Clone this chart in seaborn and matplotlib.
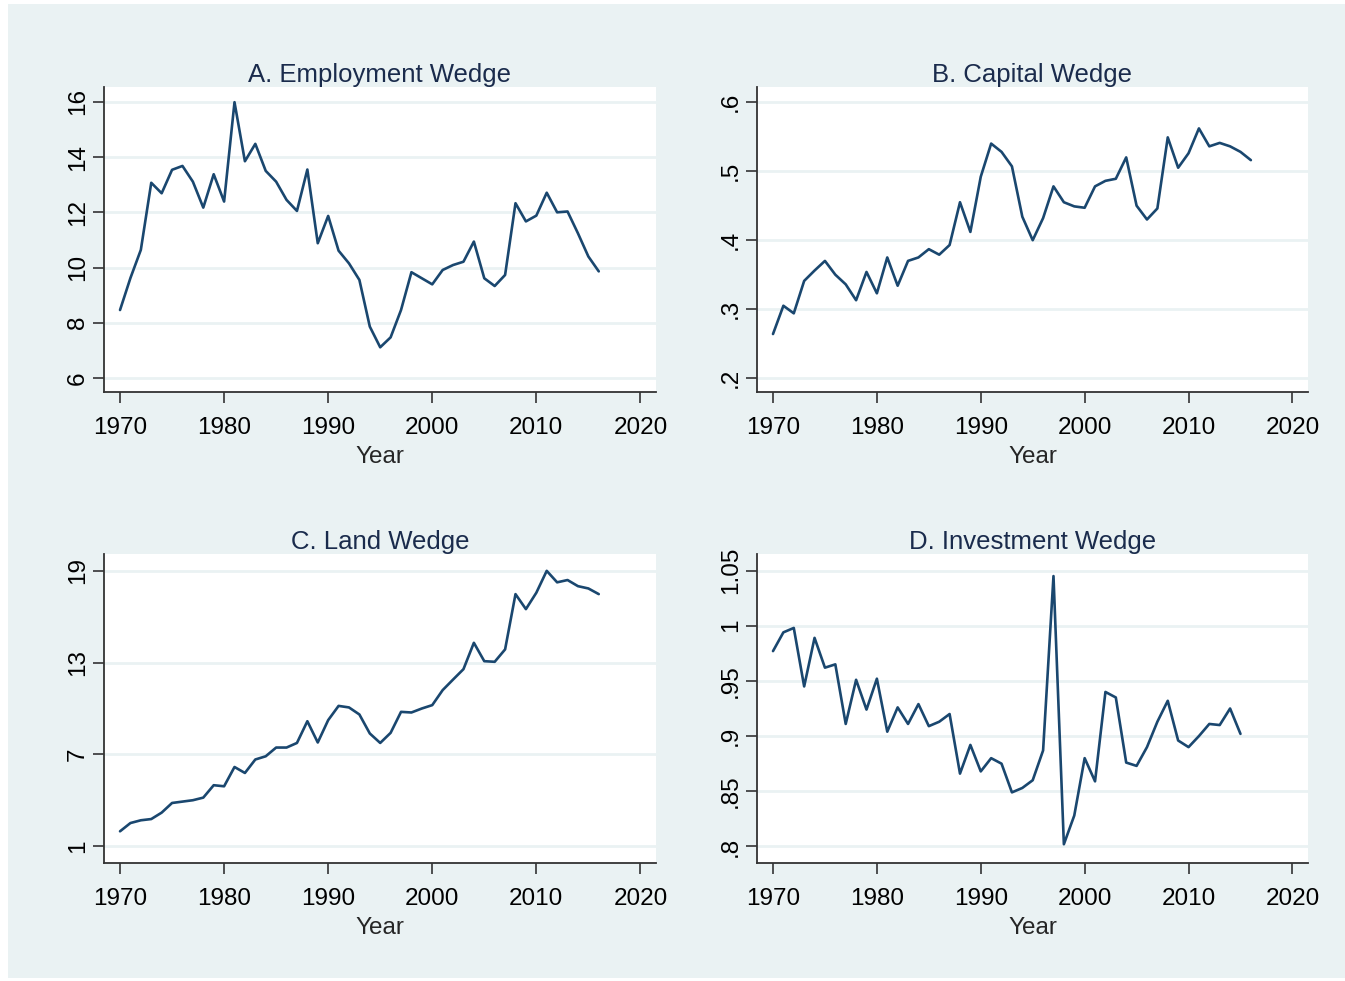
import numpy as np
import pandas as pd
import matplotlib
matplotlib.use("Agg")
import matplotlib.pyplot as plt
from matplotlib.patches import Rectangle
import seaborn as sns

# values
years = list(range(1970, 2017))
years_inv = list(range(1970, 2016))

employment = [8.46, 9.62, 10.64, 13.07, 12.69, 13.54, 13.68, 13.11, 12.17, 13.38,
              12.39, 15.99, 13.85, 14.48, 13.5, 13.11, 12.45, 12.05, 13.55, 10.88,
              11.87, 10.61, 10.15, 9.55, 7.86, 7.11, 7.47, 8.46, 9.83, 9.61,
              9.39, 9.91, 10.09, 10.21, 10.94, 9.61, 9.33, 9.73, 12.33, 11.67,
              11.88, 12.71, 12.0, 12.03, 11.24, 10.4, 9.86]

capital = [0.264, 0.305, 0.294, 0.341, 0.356, 0.370, 0.350, 0.336, 0.313, 0.354,
           0.323, 0.375, 0.334, 0.370, 0.375, 0.387, 0.379, 0.393, 0.455, 0.412,
           0.492, 0.540, 0.528, 0.507, 0.434, 0.400, 0.432, 0.478, 0.455, 0.449,
           0.447, 0.478, 0.486, 0.489, 0.520, 0.450, 0.430, 0.446, 0.549, 0.505,
           0.526, 0.562, 0.536, 0.541, 0.536, 0.528, 0.516]

land = [1.98, 2.52, 2.70, 2.78, 3.20, 3.83, 3.92, 4.01, 4.18, 4.99,
        4.92, 6.18, 5.79, 6.67, 6.88, 7.45, 7.45, 7.75, 9.17, 7.78,
        9.24, 10.17, 10.07, 9.61, 8.37, 7.75, 8.41, 9.78, 9.74, 10.0,
        10.22, 11.2, 11.89, 12.57, 14.29, 13.09, 13.05, 13.86, 17.47, 16.49,
        17.56, 18.99, 18.24, 18.39, 17.99, 17.84, 17.47]

investment = [0.977, 0.994, 0.998, 0.945, 0.989, 0.962, 0.965, 0.911, 0.951, 0.924,
              0.952, 0.904, 0.926, 0.911, 0.929, 0.909, 0.913, 0.920, 0.866, 0.892,
              0.868, 0.880, 0.875, 0.849, 0.853, 0.860, 0.887, 1.045, 0.802, 0.828,
              0.880, 0.859, 0.940, 0.935, 0.876, 0.873, 0.890, 0.913, 0.932, 0.896,
              0.890, 0.900, 0.911, 0.910, 0.925, 0.902]

titles = ["A. Employment Wedge", "B. Capital Wedge", "C. Land Wedge", "D. Investment Wedge"]
yticks_list = [
    ([6, 8, 10, 12, 14, 16], ["6", "8", "10", "12", "14", "16"]),
    ([0.2, 0.3, 0.4, 0.5, 0.6], [".2", ".3", ".4", ".5", ".6"]),
    ([1, 7, 13, 19], ["1", "7", "13", "19"]),
    ([0.8, 0.85, 0.9, 0.95, 1.0, 1.05], [".8", ".85", ".9", ".95", "1", "1.05"]),
]
ylims = [(5.49, 16.54), (0.180, 0.622), (-0.09, 20.09), (0.785, 1.065)]
xticks = [1970, 1980, 1990, 2000, 2010, 2020]

sns.set_theme(style="ticks")
plt.rcParams['font.family'] = ['Liberation Sans', 'DejaVu Sans']

W, H = 1345, 981
bg = "#eaf2f3"
line_col = "#1a476f"
fig = plt.figure(figsize=(W / 100, H / 100), dpi=100, facecolor="white")
fig.patches.append(Rectangle((8 / W, 1 - 978 / H), (W - 8) / W, (978 - 4) / H,
                             transform=fig.transFigure, facecolor=bg,
                             edgecolor="none", zorder=-1))

# panel boxes in pixels: left, top, right, bottom
boxes = [(104, 87, 656, 392), (757, 87, 1308, 392),
         (104, 554, 656, 863), (757, 554, 1308, 863)]

series = [(years, employment), (years, capital), (years, land), (years_inv, investment)]

for i, (box, (xs, ys)) in enumerate(zip(boxes, series)):
    l, t, r, b = box
    ax = fig.add_axes([l / W, 1 - b / H, (r - l) / W, (b - t) / H])
    ax.set_facecolor("white")
    df = pd.DataFrame({"Year": xs, "value": ys})
    sns.lineplot(data=df, x="Year", y="value", ax=ax, color=line_col, linewidth=1.9)
    ax.set_xlim(1968.46, 2021.5)
    ax.set_ylim(*ylims[i])
    ax.set_xticks(xticks)
    ax.set_xticklabels([str(x) for x in xticks], fontsize=17.5)
    ticks, labels = yticks_list[i]
    ax.set_yticks(ticks)
    ax.set_yticklabels(labels, fontsize=17.5, rotation=90, va="center")
    ax.grid(axis="y", color=bg, linewidth=2)
    ax.set_axisbelow(True)
    for s in ["top", "right"]:
        ax.spines[s].set_visible(False)
    for s in ["left", "bottom"]:
        ax.spines[s].set_color("#333333")
        ax.spines[s].set_linewidth(1.3)
    ax.tick_params(axis="both", direction="out", length=8, width=1.2,
                   color="#333333", labelcolor="black")
    ax.tick_params(axis="x", pad=10)
    ax.tick_params(axis="y", pad=3)
    ax.set_xlabel("Year", fontsize=17.5, labelpad=5)
    ax.set_ylabel("")
    ax.set_title(titles[i], fontsize=18.5, color="#1a2b4c", pad=2)

fig.savefig("out.png", dpi=100, facecolor=fig.get_facecolor())
